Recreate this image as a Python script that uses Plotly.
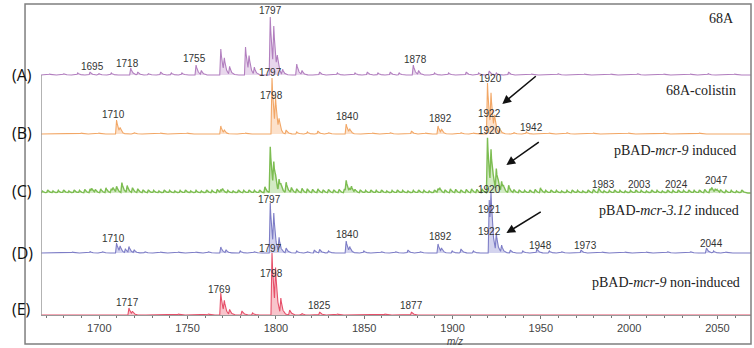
import numpy as np
import plotly.graph_objects as go

# ---------------- data (m/z of peaks, relative intensities) ----------------
A_MZ = [1672, 1680, 1688, 1695, 1700, 1707, 1718, 1722, 1728, 1735, 1741, 1747, 1755, 1758,
        1769, 1771, 1774, 1783, 1785, 1788, 1797, 1799, 1801, 1804, 1812, 1815, 1825, 1835,
        1845, 1852, 1858, 1865, 1870, 1878, 1881, 1890, 1898, 1908, 1915, 1921, 1925, 1932,
        1945, 1960, 1975, 1990, 2005, 2020, 2035, 2045, 2060]
A_INT = [1, 1.5, 2, 3, 1.5, 2, 7, 3, 1.5, 3, 2, 2, 10, 4,
         26, 14, 8, 28, 16, 7, 58, 42, 15, 5, 11, 4, 3, 2,
         2, 3, 2, 3, 2, 10, 4, 2, 2, 3, 2, 4, 2, 3,
         1, 1.5, 1, 1, 1.5, 1, 1, 1.5, 1]

B_MZ = [1675, 1690, 1700, 1710, 1712, 1720, 1735, 1750, 1769, 1771, 1783, 1798, 1800, 1802,
        1806, 1812, 1818, 1824, 1830, 1840, 1842, 1855, 1865, 1877, 1885, 1892, 1894, 1905,
        1912, 1920, 1922, 1924, 1927, 1935, 1942, 1955, 1965, 1980, 2000, 2020, 2040, 2060]
B_INT = [0.5, 1, 1, 14, 5, 1.5, 1, 1, 8, 3, 1, 56, 30, 12,
         4, 2, 2, 3, 1.5, 10, 4, 1, 1.5, 3, 1, 8, 4, 1.5,
         1, 51, 35, 15, 5, 1.5, 2, 1, 1.5, 1, 1, 1, 1, 0.5]

# green spectrum: baseline noise read every 3 m/z units, plus the distinct peaks
C_NOISE_MZ = list(range(1668, 2066, 3))
C_NOISE_INT = [2, 3, 2, 2.5, 3, 2, 3, 2.5, 3.5, 4,
               3, 4, 5, 4, 6, 5, 7, 5, 4, 3,
               3, 2.5, 2, 3, 2.5, 2, 2.5, 3, 2, 2.5,
               2, 3, 2.5, 3.5, 3, 2.5, 2, 3, 2.5, 3,
               2.5, 3, 6, 8, 6, 5, 4.5, 5, 4, 4.5,
               4, 3.5, 4, 3, 3.5, 3, 3.5, 4, 3, 3,
               3, 2.5, 3, 2.5, 3, 2, 2.5, 3, 2.5, 2,
               2.5, 3, 2.5, 2, 3, 3.5, 3, 4, 3.5, 3,
               3.5, 4, 3.5, 4, 5, 6, 5, 4, 3.5, 3,
               3, 2.5, 3, 3.5, 3, 2.5, 3, 2.5, 2, 2.5,
               3, 2.5, 2, 3, 3.5, 2.5, 2, 2.5, 3, 2.5,
               2, 2.5, 3, 2.5, 2, 3, 2.5, 2, 3, 2.5,
               3, 2.5, 3, 2.5, 3, 3.5, 4, 3.5, 3, 2.5,
               2.5, 2, 3]
C_PEAK_MZ = [1696, 1708, 1713, 1769, 1797, 1799, 1802, 1806, 1840, 1843, 1892, 1920, 1922,
             1925, 1928, 1932, 1950, 1983, 2047, 2050]
C_PEAK_INT = [3, 4, 5, 3, 38, 26, 12, 6, 11, 5, 4, 50, 37, 22, 10, 4, 2, 2, 4, 2]

D_MZ = [1675, 1685, 1695, 1702, 1710, 1712, 1715, 1717, 1720, 1726, 1735, 1745, 1755, 1762,
        1769, 1772, 1780, 1788, 1797, 1799, 1802, 1806, 1812, 1818, 1822, 1825, 1830, 1840,
        1842, 1850, 1860, 1868, 1875, 1882, 1892, 1894, 1900, 1905, 1912, 1921, 1922, 1925,
        1928, 1933, 1940, 1948, 1955, 1962, 1973, 1985, 1998, 2010, 2022, 2035, 2044, 2048,
        2055, 2065]
D_INT = [0.5, 1, 1.5, 1.5, 10, 6, 4, 6, 3, 1.5, 1, 1, 1, 1.5,
         6, 3, 2, 1.5, 50, 34, 14, 5, 2, 1.5, 3, 3.5, 2, 12,
         5, 2, 1.5, 1.5, 3, 1.5, 9, 4, 2, 4, 2, 53, 40, 18,
         7, 3, 2, 4, 2, 1.5, 3, 1, 1, 1, 1.5, 1.5, 5, 2,
         1, 0.5]

E_MZ = [1680, 1695, 1705, 1717, 1719, 1730, 1745, 1755, 1762, 1769, 1771, 1774, 1781, 1787,
        1798, 1800, 1803, 1808, 1815, 1825, 1835, 1850, 1862, 1877, 1890, 1910, 1930, 1960,
        2000, 2040]
E_INT = [0.5, 0.5, 0.5, 7, 3, 0.5, 1, 0.5, 1, 22, 12, 5, 4, 2,
         62, 40, 15, 5, 1.5, 3, 1, 0.5, 1, 3, 0.5, 0.5, 0.5, 0.5,
         0.5, 0.5]

PANEL_KEYS = ["(A)", "(B)", "(C)", "(D)", "(E)"]
PANEL_NAMES = ["68A", "68A-colistin", "pBAD-<i>mcr-9</i> induced",
               "pBAD-<i>mcr-3.12</i> induced", "pBAD-<i>mcr-9</i> non-induced"]
X_TICKS = [1700, 1750, 1800, 1850, 1900, 1950, 2000, 2050]

# peak labels: (text, m/z, panel-y)
PEAK_LABELS = [
    ("1695", 1696, 249), ("1718", 1716, 252), ("1755", 1754, 257), ("1797", 1797.2, 305),
    ("1797", 1797.2, 243), ("1878", 1879, 256),
    ("1920", 1921.5, 237), ("1710", 1708, 201), ("1798", 1797.7, 220), ("1840", 1840.7, 199),
    ("1892", 1893, 197), ("1922", 1921, 202), ("1920", 1921, 185), ("1942", 1944.6, 188),
    ("1920", 1921, 126), ("1983", 1985.3, 131), ("2003", 2005.6, 131), ("2024", 2026.6, 131),
    ("2047", 2049.7, 135),
    ("1797", 1796.6, 116), ("1797", 1797.2, 67), ("1921", 1921, 106), ("1922", 1921, 84),
    ("1710", 1708, 77), ("1840", 1840.7, 81), ("1892", 1893, 79), ("1948", 1949.7, 70),
    ("1973", 1975.1, 70), ("2044", 2046.9, 72),
    ("1798", 1797.7, 42), ("1769", 1767.8, 26), ("1717", 1715.8, 13), ("1825", 1824.9, 10),
    ("1877", 1876.8, 10),
]

# ---------------- styling / layout ----------------
XMIN, XMAX = 1667, 2069
OFFSETS = [240, 181, 122, 62, 0]
LINE_COLORS = ["#b27fbf", "#f2a766", "#7dbd52", "#7d7dc6", "#e6506a"]
FILL_COLORS = ["rgba(190,140,200,0.35)", "rgba(245,170,105,0.35)", "rgba(130,195,85,0.35)",
               "rgba(130,130,205,0.35)", "rgba(235,90,110,0.35)"]
LINE_WIDTHS = [1.1, 1.1, 1.4, 1.1, 1.1]

grid = np.arange(XMIN, XMAX + 0.05, 0.1)
prof_dx = [-0.8, -0.2, 0.3, 0.9, 1.8, 3.5]
prof_fr = [0, 1, 0.6, 0.35, 0.12, 0]


def spectrum(mz, inten):
    y = np.zeros_like(grid)
    for m, h in zip(mz, inten):
        y += h * np.interp(grid, [m + d for d in prof_dx], prof_fr, left=0, right=0)
    return y


fig = go.Figure()
series = [(A_MZ, A_INT), (B_MZ, B_INT),
          (C_NOISE_MZ + C_PEAK_MZ, C_NOISE_INT + C_PEAK_INT),
          (D_MZ, D_INT), (E_MZ, E_INT)]
for i, (mz, it) in enumerate(series):
    y = spectrum(mz, it) + OFFSETS[i]
    fig.add_trace(go.Scatter(x=grid, y=y, mode="lines", fill="toself",
                             fillcolor=FILL_COLORS[i],
                             line=dict(color=LINE_COLORS[i], width=LINE_WIDTHS[i]),
                             hoverinfo="skip", showlegend=False))

annotations = []
for t, m, yy in PEAK_LABELS:
    annotations.append(dict(x=m, y=yy, xref="x", yref="y", text=t, showarrow=False,
                            font=dict(family="Liberation Sans", size=10, color="#333333")))

title_pos = [(2060.4, 297), (2061.6, 225), (2061.6, 165), (2063.3, 105), (2063.8, 33)]
for name, (tx, ty) in zip(PANEL_NAMES, title_pos):
    annotations.append(dict(x=tx, y=ty, xref="x", yref="y", text=name, showarrow=False,
                            xanchor="right",
                            font=dict(family="Liberation Serif", size=14, color="#222222")))

key_y = [240, 182, 124, 62, 6]
for k, ky in zip(PANEL_KEYS, key_y):
    annotations.append(dict(x=-0.043, y=ky, xref="paper", yref="y", text=k, showarrow=False,
                            font=dict(family="Open Sans", size=16, color="#111111")))

arrows = [((1948.0, 240), (1928.2, 211)), ((1949.7, 174), (1930.5, 150)),
          ((1950.8, 104), (1930.5, 82))]
for (tx, ty), (hx, hy) in arrows:
    annotations.append(dict(x=hx, y=hy, ax=tx, ay=ty, xref="x", yref="y", axref="x", ayref="y",
                            text="", showarrow=True, arrowhead=2, arrowsize=1.1,
                            arrowwidth=1.6, arrowcolor="#111111"))

annotations.append(dict(x=1901.5, y=-0.062, xref="x", yref="paper", text="<i>m/z</i>",
                        showarrow=False, yanchor="top",
                        font=dict(family="Liberation Sans", size=10, color="#444444")))

shapes = [
    dict(type="line", xref="x", yref="y", x0=XMIN, x1=XMIN, y0=0, y1=240,
         line=dict(color="#9a9a9a", width=1.5)),
    dict(type="rect", xref="paper", yref="paper", x0=-0.0225, x1=1.0, y0=-0.093, y1=1.0,
         line=dict(color="#7f7f7f", width=1.5)),
]

fig.update_layout(
    width=754, height=348,
    margin=dict(l=41, r=3, t=4, b=33),
    paper_bgcolor="white", plot_bgcolor="white",
    annotations=annotations, shapes=shapes,
    xaxis=dict(range=[XMIN, XMAX], tickvals=X_TICKS, ticks="outside", ticklen=3,
               tickcolor="#777777", showline=True, linecolor="#999999", linewidth=1,
               showgrid=False, zeroline=False,
               tickfont=dict(family="Liberation Sans", size=11, color="#444444"),
               minor=dict(dtick=10, tick0=1700, ticks="outside", ticklen=2, tickcolor="#777777")),
    yaxis=dict(range=[0, 311], visible=False, showgrid=False, zeroline=False),
)

fig.write_html("out.html")
